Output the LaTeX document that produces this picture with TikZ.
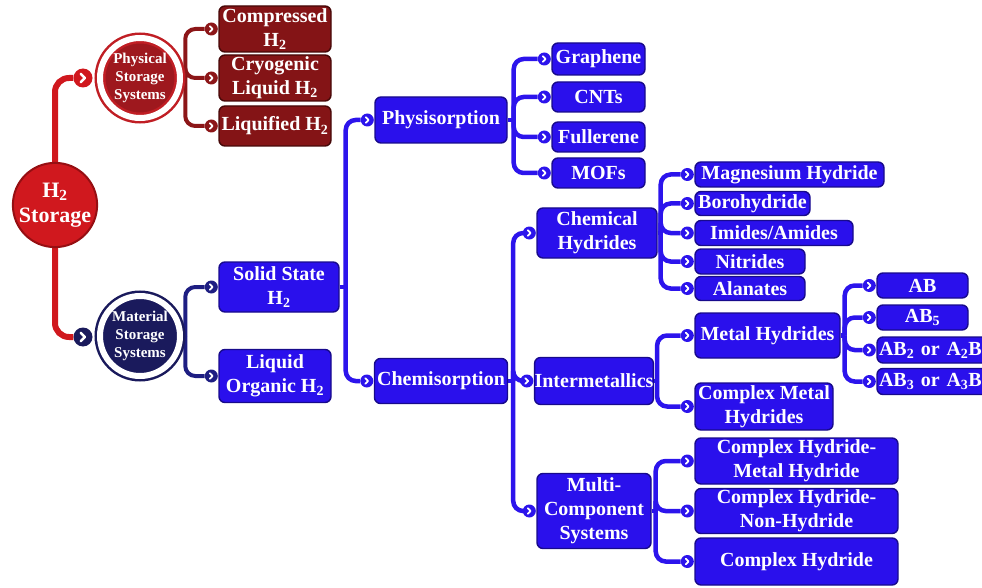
\documentclass[tikz,border=0pt]{standalone}
\usepackage{fontspec}
\setmainfont{Liberation Serif}
\usetikzlibrary{backgrounds}

\definecolor{hred}{RGB}{208,24,30}
\definecolor{hredd}{RGB}{150,14,18}
\definecolor{physfill}{RGB}{158,24,30}
\definecolor{physring}{RGB}{192,30,36}
\definecolor{rboxfill}{RGB}{132,20,22}
\definecolor{rboxline}{RGB}{70,8,8}
\definecolor{rlinec}{RGB}{140,22,24}
\definecolor{navy}{RGB}{26,26,92}
\definecolor{navyline}{RGB}{30,30,130}
\definecolor{bfill}{RGB}{42,16,236}
\definecolor{bline}{RGB}{24,10,140}
\definecolor{blinec}{RGB}{44,20,236}

\tikzset{
  txt/.style={text=white, font=\bfseries\fontsize{20}{24}\selectfont, align=center},
  rbox/.style 2 args={txt, draw=rboxline, fill=rboxfill, rounded corners=6pt,
    line width=1.4pt, inner sep=0pt, minimum width=#1pt, minimum height=#2pt},
  bbox/.style 2 args={txt, draw=bline, fill=bfill, rounded corners=6pt,
    line width=1.4pt, inner sep=0pt, minimum width=#1pt, minimum height=#2pt},
  ringc/.style 2 args={circle, fill=#1, draw=#2, double=white, double distance=6pt,
    line width=2.5pt, minimum size=80pt, inner sep=0pt, text=white, align=center,
    font=\bfseries\fontsize{15}{18}\selectfont},
  chev/.style 2 args={circle, fill=#1, minimum size=#2pt, inner sep=0pt,
    path picture={\draw[white, line width={0.13*#2pt}, line cap=round, line join=round]
      ([xshift={-0.12*#2pt}, yshift={0.22*#2pt}]path picture bounding box.center)
      -- ++({0.22*#2pt},{-0.22*#2pt}) -- ++({-0.22*#2pt},{-0.22*#2pt});}},
  hline/.style={draw=hred, line width=6pt, rounded corners=14pt},
  rline/.style={draw=rlinec, line width=4pt, rounded corners=10pt},
  nline/.style={draw=navyline, line width=4pt, rounded corners=10pt},
  bwire/.style={draw=blinec, line width=4.5pt, rounded corners=10pt}
}

\begin{document}
\begin{tikzpicture}[x=1pt, y=-1pt]
  \useasboundingbox (0,0) rectangle (982,588);
  \clip (0,0) rectangle (982,588);

  % root and the two storage systems
  \node[circle, fill=hred, draw=hredd, line width=2pt, minimum size=84pt, inner sep=0pt,
    text=white, align=center, font=\bfseries\fontsize{22}{25}\selectfont]
    (h2) at (55,205) {H\textsubscript{2}\\Storage};
  \node[ringc={physfill}{physring}] (phys) at (140,78) {Physical\\Storage\\Systems};
  \node[ringc={navy}{navy}] (mat) at (140,336) {Material\\Storage\\Systems};
  \node[chev={hred}{19}] (phys-in) at (83,78) {};
  \node[chev={navy}{19}] (mat-in) at (83,337) {};

  % physical storage
  \node[rbox={112}{46}] (comp) at (275,29) {Compressed\\H\textsubscript{2}};
  \node[rbox={112}{46}] (cryo) at (275,78) {Cryogenic\\Liquid H\textsubscript{2}};
  \node[rbox={112}{40}] (liqf) at (275,126) {Liquified H\textsubscript{2}};

  % material storage
  \node[bbox={120}{50}] (solid) at (279,287) {Solid State\\H\textsubscript{2}};
  \node[bbox={112}{53}] (liqorg) at (275,376) {Liquid\\Organic H\textsubscript{2}};

  \node[bbox={132}{46}] (physi) at (441,120) {Physisorption};
  \node[bbox={133}{45}] (chemi) at (441,381) {Chemisorption};

  % physisorption
  \node[bbox={93}{32}] (graph) at (598.5,59) {Graphene};
  \node[bbox={93}{30}] (cnt) at (598.5,97) {CNTs};
  \node[bbox={93}{30}] (full) at (598.5,137) {Fullerene};
  \node[bbox={93}{30}] (mof) at (598.5,173) {MOFs};

  % chemisorption
  \node[bbox={120}{50}] (chemh) at (597,233) {Chemical\\Hydrides};
  \node[bbox={118}{47}] (inter) at (594,381) {Intermetallics};
  \node[bbox={114}{75}] (multi) at (594,511) {Multi-\\Component\\Systems};

  \node[bbox={189}{25}] (mg) at (789.5,174.5) {Magnesium Hydride};
  \node[bbox={115}{24}] (boro) at (752.5,203.5) {Borohydride};
  \node[bbox={158}{25}] (imid) at (774,233) {Imides/Amides};
  \node[bbox={110}{25}] (nitr) at (750,261.5) {Nitrides};
  \node[bbox={110}{24}] (alan) at (750,288.5) {Alanates};

  \node[bbox={145}{45}] (metal) at (767.5,335.5) {Metal Hydrides};
  \node[bbox={138}{47}] (cmh) at (764,406.5) {Complex Metal\\Hydrides};

  \node[bbox={91}{25}] (ab) at (922.5,285.5) {AB};
  \node[bbox={91}{25}] (ab5) at (922.5,317.5) {AB\textsubscript{5}};
  \node[bbox={123}{26}, text width=119pt, inner xsep=2pt, align=left] (ab2) at (938.5,350)
    {AB\textsubscript{2} or A\textsubscript{2}B};
  \node[bbox={123}{26}, text width=119pt, inner xsep=2pt, align=left] (ab3) at (938.5,381.5)
    {AB\textsubscript{3} or A\textsubscript{3}B};

  \node[bbox={203}{46}] (chmh) at (796.5,461) {Complex Hydride-\\Metal Hydride};
  \node[bbox={203}{45}] (chnh) at (796.5,511) {Complex Hydride-\\Non-Hydride};
  \node[bbox={203}{47}] (ch) at (796.5,561.5) {Complex Hydride};

  % chevrons in front of the boxes
  \foreach \c in {comp,cryo,liqf}
    \node[chev={rlinec}{13}] (\c-in) at ([xshift=-7pt]\c.west) {};
  \foreach \c in {solid,liqorg}
    \node[chev={navyline}{13}] (\c-in) at ([xshift=-7pt]\c.west) {};
  \foreach \c in {physi,chemi,graph,cnt,full,mof,chemh,inter,multi,mg,boro,imid,nitr,alan,metal,cmh,ab,ab5,ab2,ab3,chmh,chnh,ch}
    \node[chev={blinec}{13}] (\c-in) at ([xshift=-7pt]\c.west) {};

  % branch points
  \coordinate (phys-b) at ([xshift=4pt]phys.east);
  \coordinate (mat-b) at ([xshift=4pt]mat.east);
  \coordinate (solid-b) at ([xshift=6pt]solid.east);
  \coordinate (physi-b) at ([xshift=6pt]physi.east);
  \coordinate (chemi-b) at ([xshift=5pt]chemi.east);
  \coordinate (chemh-b) at ([xshift=3pt]chemh.east);
  \coordinate (inter-b) at ([xshift=3pt]inter.east);
  \coordinate (metal-b) at ([xshift=4pt]metal.east);
  \coordinate (multi-b) at ([xshift=4pt]multi.east);

  % connectors
  \begin{scope}[on background layer]
    \draw[hline] (h2.north) |- (phys-in);
    \draw[hline] (h2.south) |- (mat-in);
    \draw[rline] (phys.east) -- (phys-b);
    \foreach \c in {comp,cryo,liqf}
      \draw[rline] (phys-b) |- (\c-in);
    \draw[nline] (mat.east) -- (mat-b);
    \foreach \c in {solid,liqorg}
      \draw[nline] (mat-b) |- (\c-in);
    \draw[bwire] (solid.east) -- (solid-b);
    \foreach \c in {physi,chemi}
      \draw[bwire] (solid-b) |- (\c-in);
    \draw[bwire] (physi.east) -- (physi-b);
    \foreach \c in {graph,cnt,full,mof}
      \draw[bwire] (physi-b) |- (\c-in);
    \draw[bwire] (chemi.east) -- (chemi-b);
    \foreach \c in {chemh,inter,multi}
      \draw[bwire] (chemi-b) |- (\c-in);
    \draw[bwire] (chemh.east) -- (chemh-b);
    \foreach \c in {mg,boro,imid,nitr,alan}
      \draw[bwire] (chemh-b) |- (\c-in);
    \draw[bwire] (inter.east) -- (inter-b);
    \foreach \c in {metal,cmh}
      \draw[bwire] (inter-b) |- (\c-in);
    \draw[bwire] (metal.east) -- (metal-b);
    \foreach \c in {ab,ab5,ab2,ab3}
      \draw[bwire] (metal-b) |- (\c-in);
    \draw[bwire] (multi.east) -- (multi-b);
    \foreach \c in {chmh,chnh,ch}
      \draw[bwire] (multi-b) |- (\c-in);
  \end{scope}
\end{tikzpicture}
\end{document}
